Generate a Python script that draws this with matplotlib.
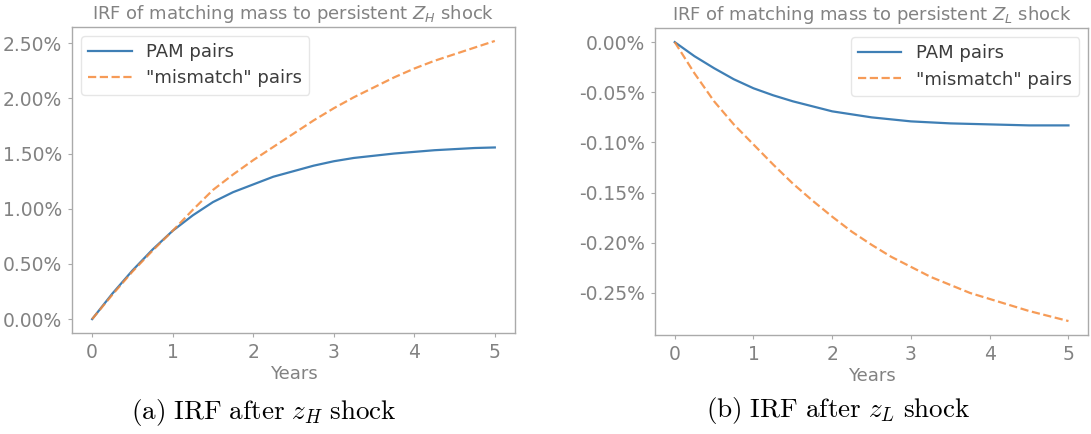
import matplotlib
matplotlib.use("Agg")
import matplotlib.pyplot as plt
from matplotlib.ticker import FuncFormatter

# Impulse responses (percent deviation), sampled quarterly over five years
years = [0.0, 0.25, 0.5, 0.75, 1.0, 1.25, 1.5, 1.75, 2.0, 2.25, 2.5,
         2.75, 3.0, 3.25, 3.5, 3.75, 4.0, 4.25, 4.5, 4.75, 5.0]

zh_pam = [0.00, 0.23, 0.44, 0.63, 0.80, 0.94, 1.06, 1.15, 1.22, 1.29, 1.34,
          1.39, 1.43, 1.46, 1.48, 1.50, 1.515, 1.53, 1.54, 1.55, 1.555]
zh_mismatch = [0.00, 0.22, 0.43, 0.62, 0.80, 0.99, 1.17, 1.31, 1.44, 1.56, 1.68,
               1.80, 1.91, 2.01, 2.10, 2.19, 2.27, 2.34, 2.40, 2.46, 2.52]

zl_pam = [0.0, -0.014, -0.026, -0.037, -0.046, -0.053, -0.059, -0.064, -0.069,
          -0.072, -0.075, -0.077, -0.079, -0.080, -0.081, -0.0815, -0.082,
          -0.0825, -0.083, -0.083, -0.083]
zl_mismatch = [0.0, -0.031, -0.059, -0.082, -0.102, -0.122, -0.141, -0.158,
               -0.174, -0.189, -0.202, -0.214, -0.224, -0.234, -0.242, -0.250,
               -0.256, -0.262, -0.268, -0.273, -0.278]

series_labels = ["PAM pairs", '"mismatch" pairs']
titles = [r"IRF of matching mass to persistent $Z_H$ shock",
          r"IRF of matching mass to persistent $Z_L$ shock"]
captions = [r"$\mathrm{(a)\ IRF\ after\ }z_H\mathrm{\ shock}$",
            r"$\mathrm{(b)\ IRF\ after\ }z_L\mathrm{\ shock}$"]

plt.rcParams["mathtext.fontset"] = "dejavusans"

fig = plt.figure(figsize=(10.91, 4.34), dpi=100)
ax1 = fig.add_axes([0.066, 0.2327, 0.406, 0.705])
ax2 = fig.add_axes([0.6004, 0.2281, 0.397, 0.707])

text_grey = "#828282"
spine_grey = "#aaaaaa"
pct = FuncFormatter(lambda v, _: f"{v:.2f}%")

panels = [
    (ax1, zh_pam, zh_mismatch, titles[0], "upper left"),
    (ax2, zl_pam, zl_mismatch, titles[1], "upper right"),
]
for ax, pam, mism, title, loc in panels:
    ax.plot(years, pam, color="#3f7fb5", lw=1.6, label=series_labels[0])
    ax.plot(years, mism, color="#f58a3a", lw=1.6, ls="--", alpha=0.85,
            label=series_labels[1])
    ax.set_title(title, fontsize=13, color=text_grey, pad=6)
    ax.set_xlabel("Years", fontsize=13, color=text_grey, labelpad=2)
    ax.set_xticks([0, 1, 2, 3, 4, 5])
    ax.yaxis.set_major_formatter(pct)
    ax.tick_params(labelsize=13.5, colors=text_grey, length=3,
                   width=0.8, color=spine_grey, pad=4)
    for s in ax.spines.values():
        s.set_color(spine_grey)
        s.set_linewidth(1.0)
    leg = ax.legend(loc=loc, fontsize=13, frameon=True, framealpha=1.0,
                    edgecolor="#e6e6e6", handlelength=2.4,
                    labelspacing=0.45, borderaxespad=0.5)
    for t in leg.get_texts():
        t.set_color("#3c3c3c")

ax1.set_yticks([0.0, 0.5, 1.0, 1.5, 2.0, 2.5])
ax2.set_yticks([0.0, -0.05, -0.10, -0.15, -0.20, -0.25])

fig.text(264 / 1091, 1 - 413 / 434, captions[0], ha="center", va="center",
         fontsize=19.5, color="black", math_fontfamily="cm")
fig.text(838 / 1091, 1 - 410 / 434, captions[1], ha="center", va="center",
         fontsize=19.5, color="black", math_fontfamily="cm")

fig.savefig("out.png", dpi=100)
